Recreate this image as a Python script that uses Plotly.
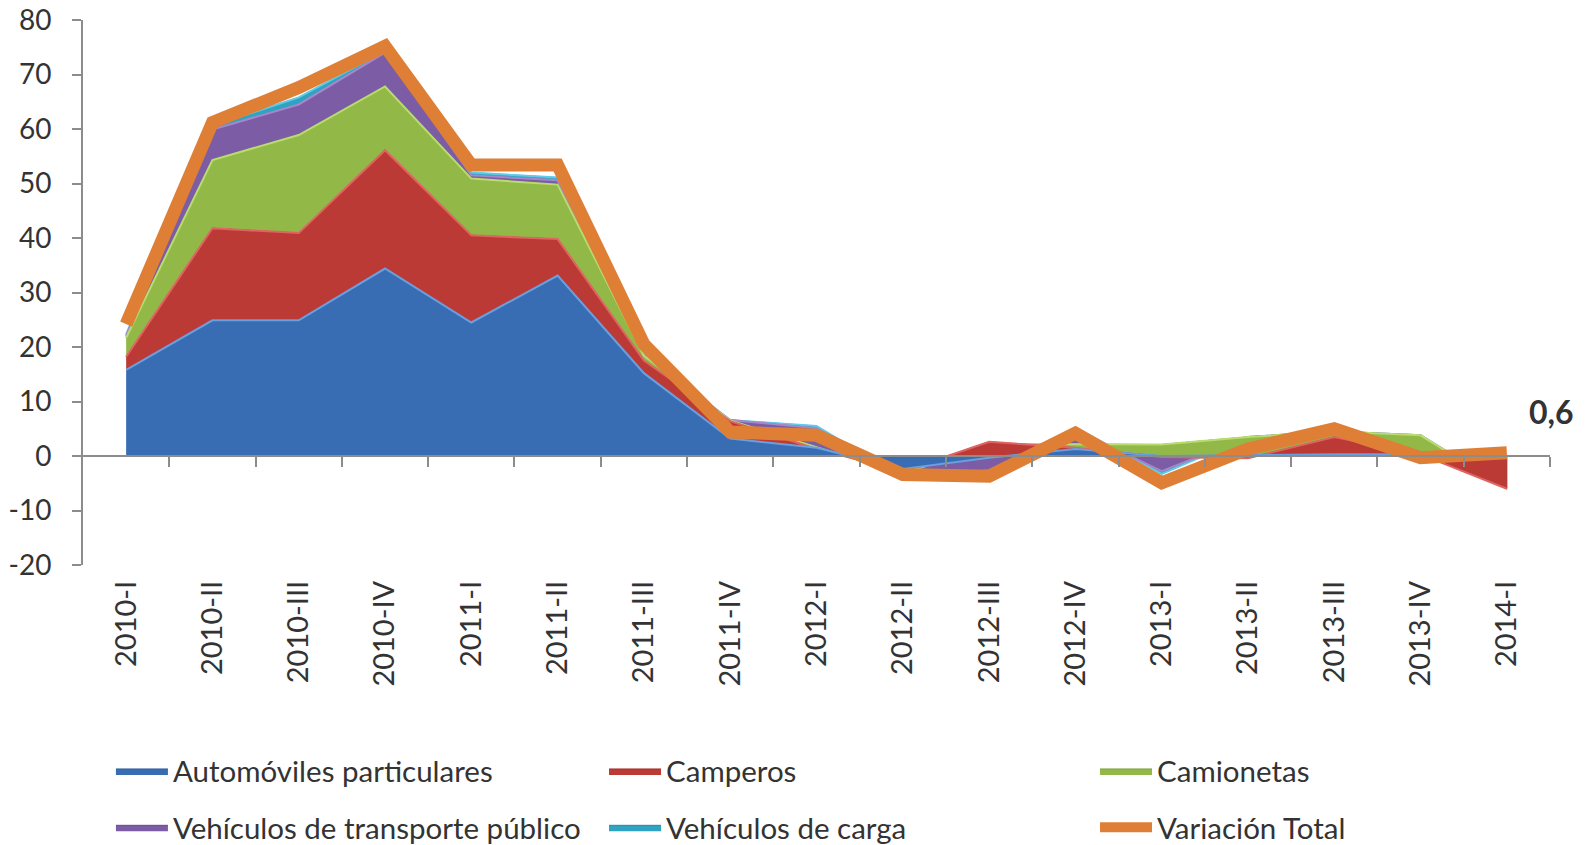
import plotly.graph_objects as go
import numpy as np

categories = ["2010-I", "2010-II", "2010-III", "2010-IV", "2011-I", "2011-II", "2011-III", "2011-IV",
              "2012-I", "2012-II", "2012-III", "2012-IV", "2013-I", "2013-II", "2013-III", "2013-IV", "2014-I"]

automoviles = [15.8, 24.9, 24.9, 34.4, 24.5, 33.1, 15.2, 3.2, 1.5, -2.4, -0.3, 1.3, 0.0, 0.2, 0.3, 0.3, 0.0]
camperos = [2.4, 16.9, 16.0, 21.7, 16.0, 6.7, 2.3, 3.2, -0.2, -0.4, 2.9, 0.2, -0.2, -0.6, 3.2, 0.0, -6.0]
camionetas = [3.5, 12.5, 18.0, 11.7, 10.4, 10.0, 0.9, 0.1, 0.3, -0.5, -0.4, 0.6, 2.3, 3.9, 1.0, 3.5, 0.0]
transporte_publico = [0.4, 5.6, 5.6, 6.2, 0.6, 0.8, 0.2, 0.1, 3.5, -0.5, -4.8, 2.7, -4.9, 0.0, 0.0, 0.0, 0.0]
carga = [0.2, 0.7, 1.3, 0.3, 0.5, 0.5, 0.1, 0.0, 0.4, -0.2, -0.3, 0.4, -0.5, 0.0, 0.0, 0.0, 0.0]
variacion_total = [24.2, 61.2, 67.6, 75.2, 53.4, 53.4, 20.5, 4.4, 3.8, -3.4, -3.7, 4.2, -4.9, 1.3, 5.0, -0.3, 0.6]

y_ticks = [-20, -10, 0, 10, 20, 30, 40, 50, 60, 70, 80]
y_ticktext = ["-20", "-10", "0", "10", "20", "30", "40", "50", "60", "70", "80"]

series_names = ["Automóviles particulares", "Camperos", "Camionetas",
                "Vehículos de transporte público", "Vehículos de carga"]
series_colors = ["#386db3", "#bc3a36", "#92b848", "#7c5ca4", "#2ea3c2"]
line_colors = ["#2f5f9e", "#a3302d", "#7fa23c", "#67498c", "#2689a4"]
highlight_colors = ["#6a9fe0", "#e06562", "#b9dc6e", "#a587cc", "#5fcbe6"]
total_name = "Variación Total"
total_color = "#df7f36"
last_label = "0,6"

FONT = "Lato"
TXT = "#333333"
AX = "#8c8c8c"

n = len(categories)
x_idx = list(range(n))
vals = np.array([automoviles, camperos, camionetas, transporte_publico, carga])
cum = np.cumsum(vals, axis=0)
lower = np.vstack([np.zeros(n), cum[:-1]])

legend_cols = ["legend", "legend2", "legend3", "legend", "legend2"]

fig = go.Figure()
# Excel-like drawing: first series drawn on top
for k in reversed(range(len(series_names))):
    xs = x_idx + x_idx[::-1]
    ys = list(cum[k]) + list(lower[k][::-1])
    fig.add_trace(go.Scatter(
        x=xs, y=ys, fill="toself", fillcolor=series_colors[k],
        mode="lines", line=dict(color=line_colors[k], width=1),
        name=series_names[k], legend=legend_cols[k], legendgroup=f"g{k}",
        legendrank=k + 1, hoverinfo="skip"))
    fig.add_trace(go.Scatter(
        x=x_idx, y=list(cum[k]), mode="lines",
        line=dict(color=highlight_colors[k], width=2),
        showlegend=False, hoverinfo="skip"))

fig.add_trace(go.Scatter(
    x=x_idx, y=variacion_total, xaxis="x2", mode="lines",
    line=dict(color=total_color, width=13), name=total_name,
    legend="legend3", legendgroup="gt", legendrank=10, hoverinfo="skip"))

fig.add_annotation(x=x_idx[-1], y=variacion_total[-1], xref="x2", yref="y",
                   text=f"<b>{last_label}</b>", showarrow=False,
                   xanchor="left", yanchor="middle", xshift=20, yshift=41,
                   font=dict(family=FONT, size=32, color=TXT))

boundaries = [i + 0.5 for i in x_idx]

legend_common = dict(orientation="v", xref="container", yref="container", y=0.118,
                     xanchor="left", yanchor="top", itemwidth=52, tracegroupgap=15,
                     traceorder="grouped", font=dict(family=FONT, size=29.5, color=TXT),
                     bgcolor="rgba(0,0,0,0)")

fig.update_layout(
    width=1587, height=845,
    margin=dict(l=83, r=37, t=20, b=280, autoexpand=False),
    paper_bgcolor="white", plot_bgcolor="white",
    font=dict(family=FONT, size=28, color=TXT),
    hovermode=False,
    xaxis=dict(range=[-0.5, n - 0.5], tickmode="array", tickvals=x_idx, ticktext=categories,
               tickangle=-90, showline=False, ticks="", showgrid=False, zeroline=False,
               tickfont=dict(family=FONT, size=29, color=TXT), ticklabelstandoff=9,
               automargin=False),
    xaxis2=dict(overlaying="x", anchor="free", position=0.2, range=[-0.5, n - 0.5],
                tickmode="array", tickvals=boundaries, showticklabels=False,
                ticks="outside", ticklen=10, tickwidth=2, tickcolor=AX,
                showline=True, linecolor=AX, linewidth=2, showgrid=False, zeroline=False,
                automargin=False),
    yaxis=dict(range=[-20, 80], tickmode="array", tickvals=y_ticks, ticktext=y_ticktext,
               ticks="outside", ticklen=9, tickwidth=2, tickcolor=AX,
               showline=True, linecolor=AX, linewidth=2, showgrid=False, zeroline=False,
               tickfont=dict(family=FONT, size=28, color=TXT), ticklabelstandoff=15,
               automargin=False),
    legend=dict(x=0.0699, **legend_common),
    legend2=dict(x=0.3806, **legend_common),
    legend3=dict(x=0.6900, **legend_common),
    showlegend=True,
)

fig.write_html("out.html", config={"displayModeBar": False},
               post_script="document.body.style.margin='0px';document.body.style.overflow='hidden';")
